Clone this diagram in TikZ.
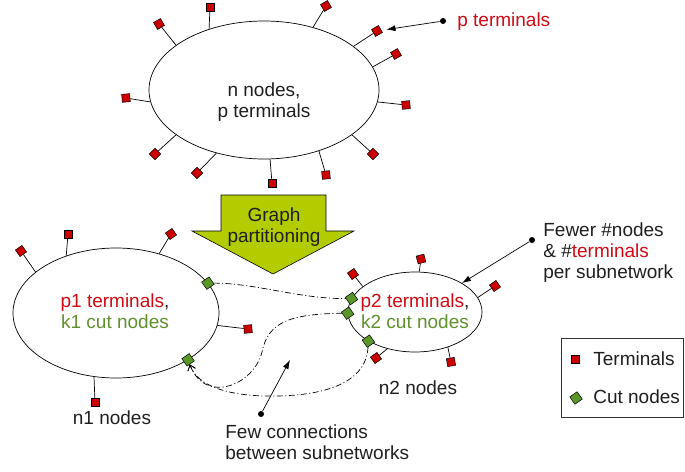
\documentclass[tikz,border=0pt]{standalone}
\usepackage{fontspec}
\setmainfont{Liberation Sans}
\usetikzlibrary{shapes.geometric,arrows.meta}
\definecolor{termred}{RGB}{204,0,0}
\definecolor{txtred}{RGB}{210,10,20}
\definecolor{cutgreen}{RGB}{90,150,40}
\definecolor{txtgreen}{RGB}{95,145,45}
\definecolor{arrowgreen}{RGB}{178,204,0}
\newcommand\tmnl[5]{\node[term,rotate=#3] (#1) at (#2) {}; \draw (#4.#5) -- (#1);}
\begin{document}
\begin{tikzpicture}[x=1pt,y=-1pt, line width=0.7pt,
 term/.style={rectangle, draw=black, line width=0.5pt, fill=termred, minimum size=8pt, inner sep=0pt},
 cut/.style={rectangle, draw=black, line width=0.5pt, fill=cutgreen, minimum size=9pt, inner sep=0pt, rotate=35},
 net/.style={ellipse, draw, line width=0.7pt, inner sep=0pt},
 lbl/.style={font=\fontsize{19}{21}\selectfont, inner sep=0pt, text=black!88},
 conn/.style={dash pattern=on 6pt off 2.5pt on 1pt off 2.5pt, line width=0.7pt},
 barb/.style={-{Straight Barb[length=5pt,width=8pt]}},
 ptr/.style={-{Latex[length=9pt,width=6pt]}, line width=0.7pt},
 dotc/.style={circle, fill=black, minimum size=6pt, inner sep=0pt}]
\useasboundingbox (0,0) rectangle (685,471);

% networks
\node[net, minimum width=230pt, minimum height=138pt] (T) at (264,90) {};
\node[net, minimum width=206pt, minimum height=130pt] (L) at (116,313) {};
\node[net, minimum width=134pt, minimum height=80pt] (R) at (415,312) {};

% terminals of the full network
\tmnl{t1}{159,24}{30}{T}{153}
\tmnl{t2}{210,7}{0}{T}{132}
\tmnl{t3}{326,6}{30}{T}{52}
\tmnl{t4}{377,31}{30}{T}{26}
\tmnl{t5}{396,54}{30}{T}{12}
\tmnl{t6}{406,105}{5}{T}{-6}
\tmnl{t7}{373,154}{45}{T}{-27}
\tmnl{t8}{326,175}{5}{T}{-48}
\tmnl{t9}{272,183}{0}{T}{-85}
\tmnl{t10}{197,173}{45}{T}{233}
\tmnl{t11}{155,154}{45}{T}{207}
\tmnl{t12}{126,98}{5}{T}{186}

% terminals of subnetwork 1
\tmnl{l1}{21,251}{35}{L}{153}
\tmnl{l2}{68,234}{0}{L}{131}
\tmnl{l3}{171,234}{35}{L}{54}
\tmnl{l4}{248,329}{5}{L}{-7}
\tmnl{l5}{95,402}{0}{L}{251}

% terminals of subnetwork 2
\tmnl{r1}{353,274}{35}{R}{154}
\tmnl{r2}{421,259}{15}{R}{84}
\tmnl{r3}{495,286}{35}{R}{13}
\tmnl{r4}{376,358}{35}{R}{233}
\tmnl{r5}{451,362}{10}{R}{-47}

% cut nodes
\node[cut] (c1) at (L.18) {};
\node[cut] (c2) at (L.-33) {};
\node[cut] (c3) at (R.168) {};
\node[cut] (c4) at (R.181) {};
\node[cut] (c5) at (R.212) {};

% connections between subnetworks
\draw[conn] (c1) .. controls (255,283) and (300,299) .. (c3);
\draw[conn,barb] (c4) .. controls (290,314) and (268,322) .. (262,352)
  .. controls (254,385) and (205,405) .. (c2);
\draw[conn,barb] (c5) .. controls (366,385) and (320,397) .. (265,396)
  .. controls (225,395) and (197,385) .. (c2);

% graph partitioning arrow
\draw[fill=arrowgreen, line width=0.6pt] (221,195) -- (326,195) -- (326,231) -- (354,231)
  -- (273,274) -- (192,231) -- (221,231) -- cycle;
\node[lbl, anchor=base, align=center] (gp) at (274,242) {Graph\\partitioning};

% texts in networks
\node[lbl, anchor=base, align=center] (tt) at (264,117) {n nodes,\\p terminals};
\node[lbl, anchor=base, align=center] (lt) at (115,328) {\textcolor{txtred}{p1 terminals},\\\textcolor{txtgreen}{k1 cut nodes}};
\node[lbl, anchor=base, align=center] (rt) at (415,328) {\textcolor{txtred}{p2 terminals},\\\textcolor{txtgreen}{k2 cut nodes}};
\node[lbl, anchor=base] (n1) at (112,424) {n1 nodes};
\node[lbl, anchor=base] (n2) at (418,394) {n2 nodes};

% annotations
\node[dotc] (d1) at (443,21) {};
\draw[ptr, shorten >=5pt] (d1) -- (t4);
\node[lbl, anchor=base west, text=txtred] (pt) at (457,26) {p terminals};

\node[dotc] (d2) at (532,240) {};
\draw[ptr] (d2) -- (R);
\node[lbl, anchor=base west, align=left] (fw) at (543,278) {Fewer \#nodes\\\& \#\textcolor{txtred}{terminals}\\per subnetwork};

\node[dotc] (d3) at (261,414) {};
\coordinate (a3) at (290,360);
\draw[ptr] (d3) -- (a3);
\node[lbl, anchor=base west, align=left] (fc) at (225,459) {Few connections\\between subnetworks};

% legend
\node[draw=black!80, line width=0.6pt, minimum width=122pt, minimum height=79pt, inner sep=0pt, anchor=north west] (leg) at (561,338) {};
\node[term] (lgt) at (575,359) {};
\node[lbl, anchor=base west] (lgtt) at (593,365) {Terminals};
\node[cut] (lgc) at (576,398) {};
\node[lbl, anchor=base west] (lgct) at (593,403) {Cut nodes};
\end{tikzpicture}
\end{document}
